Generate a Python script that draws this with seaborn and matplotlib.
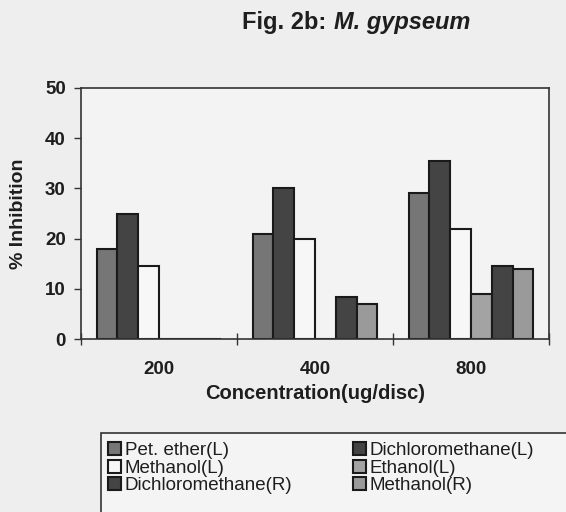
import matplotlib
matplotlib.use("Agg")
import matplotlib.pyplot as plt
from matplotlib.patches import Rectangle
import seaborn as sns
import pandas as pd

concentrations = ["200", "400", "800"]
series = ["Pet. ether(L)", "Dichloromethane(L)", "Methanol(L)",
          "Ethanol(L)", "Dichloromethane(R)", "Methanol(R)"]
pet_ether_L = [18, 21, 29]
dichloromethane_L = [25, 30, 35.5]
methanol_L = [14.5, 20, 22]
ethanol_L = [0, 0, 9]
dichloromethane_R = [0, 8.3, 14.5]
methanol_R = [0, 7, 14]
colors = ["#767676", "#444444", "#f7f7f7", "#a3a3a3", "#444444", "#9a9a9a"]

values = [pet_ether_L, dichloromethane_L, methanol_L, ethanol_L,
          dichloromethane_R, methanol_R]
rows = []
for s, vals in zip(series, values):
    for c, v in zip(concentrations, vals):
        rows.append({"Concentration": c, "Series": s, "Inhibition": v})
df = pd.DataFrame(rows)

sns.set_theme(style="white")
plt.rcParams["font.family"] = ["Liberation Sans", "DejaVu Sans"]

W, H = 566, 512
fig = plt.figure(figsize=(W/100, H/100), dpi=100, facecolor="#eeeeee")
ax = fig.add_axes([81/W, 1-339/H, (549-81)/W, (339-88)/H])
ax.set_facecolor("#f3f3f3")

sns.barplot(data=df, x="Concentration", y="Inhibition", hue="Series",
            order=concentrations, hue_order=series, palette=colors,
            edgecolor="#1a1a1a", linewidth=1.5, width=0.8, saturation=1,
            ax=ax, legend=True, errorbar=None)

ax.set_xlim(-0.5, 2.5)
ax.set_ylim(0, 50)
ax.set_yticks([0, 10, 20, 30, 40, 50])
ax.tick_params(axis="y", which="major", direction="out", length=5, width=1,
               color="#333333", left=True, labelsize=13.5, pad=6,
               labelcolor="#1e1e1e")
for lbl in ax.get_yticklabels():
    lbl.set_fontweight("bold")
ax.set_xticks([0, 1, 2])
ax.tick_params(axis="x", which="major", length=0, labelsize=13.5, pad=16,
               labelcolor="#1e1e1e")
for lbl in ax.get_xticklabels():
    lbl.set_fontweight("bold")
ax.set_xticks([-0.5, 0.5, 1.5, 2.5], minor=True)
ax.tick_params(axis="x", which="minor", direction="inout", length=9, width=1,
               color="#333333", bottom=True)

for sp in ax.spines.values():
    sp.set_visible(True)
    sp.set_color("#333333")
    sp.set_linewidth(1.2)

ax.set_xlabel("Concentration(ug/disc)", fontsize=14.5, fontweight="bold",
              labelpad=4, color="#1e1e1e")
ax.set_ylabel("% Inhibition", fontsize=14, fontweight="bold", labelpad=13,
              color="#1e1e1e")

t1 = fig.text(242/W, 1-23/H, "Fig. 2b: ", fontsize=17, fontweight="bold",
              ha="left", va="center", color="#1e1e1e")
fig.canvas.draw()
bb = t1.get_window_extent()
fig.text(bb.x1/W + 1/W, 1-23/H, "M. gypseum", fontsize=17, fontweight="bold",
         style="italic", ha="left", va="center", color="#1e1e1e")

handles, labels = ax.get_legend_handles_labels()
ax.get_legend().remove()
order = [0, 2, 4, 1, 3, 5]
fig.patches.append(Rectangle((101/W, -0.05), 0.9, 1-433/H+0.05,
                             transform=fig.transFigure, facecolor="#f4f4f4",
                             edgecolor="#333333", linewidth=1.2, zorder=0))
leg = fig.legend([handles[i] for i in order], [labels[i] for i in order],
                 ncol=2, loc="upper left",
                 bbox_to_anchor=(108/W, 1-442/H),
                 fontsize=13.5, frameon=False,
                 handlelength=0.7, handleheight=0.7, handletextpad=0.2,
                 labelspacing=0.02, columnspacing=3.2, borderpad=0,
                 borderaxespad=0)
for t in leg.get_texts():
    t.set_color("#1e1e1e")

fig.savefig("out.png", dpi=100, facecolor=fig.get_facecolor())
